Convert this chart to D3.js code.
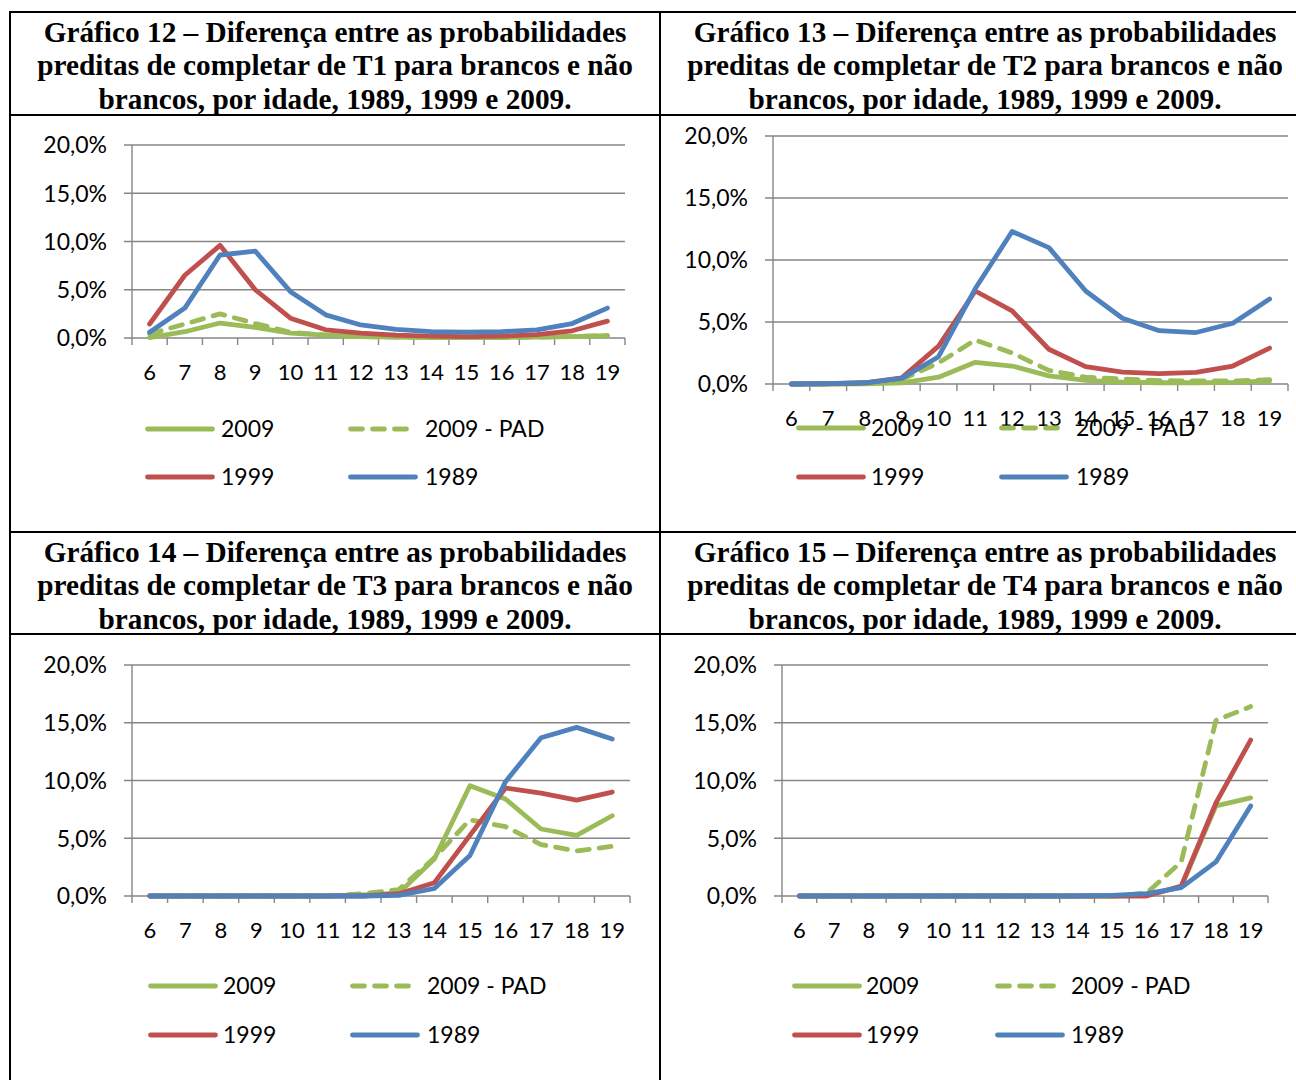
<!DOCTYPE html>
<html>
<head>
<meta charset="utf-8">
<script src="https://cdn.jsdelivr.net/npm/d3@7"></script>
<style>
  html, body { margin: 0; padding: 0; background: #fff; }
  svg { display: block; }
  .title { font-family: "Liberation Serif", "Times New Roman", serif; font-weight: bold; font-size: 29.3px; fill: #000; }
  .lbl { font-family: Lato, "Open Sans", sans-serif; font-size: 22px; fill: #000; }
  .ylbl { font-family: Lato, "Open Sans", sans-serif; font-size: 23px; fill: #000; }
  .leg { font-family: Lato, "Open Sans", sans-serif; font-size: 23px; fill: #000; }
</style>
</head>
<body>
<svg id="chart" width="1296" height="1080"></svg>
<script>
// Ages on the horizontal axis
const ages = ["6", "7", "8", "9", "10", "11", "12", "13", "14", "15", "16", "17", "18", "19"];
const yTicks = [0, 5, 10, 15, 20];
const seriesNames = ["2009", "2009 - PAD", "1999", "1989"];

// Differences in predicted probability (percentage points), T1
const t1_2009    = [0.05, 0.65, 1.55, 1.1, 0.5, 0.3, 0.15, 0.1, 0.05, 0.05, 0.05, 0.1, 0.15, 0.25];
const t1_2009pad = [0.4, 1.45, 2.5, 1.5, 0.6, 0.3, 0.15, 0.1, 0.05, 0.05, 0.05, 0.1, 0.15, 0.25];
const t1_1999    = [1.45, 6.5, 9.6, 5.0, 2.05, 0.85, 0.5, 0.3, 0.2, 0.15, 0.2, 0.35, 0.75, 1.75];
const t1_1989    = [0.6, 3.1, 8.6, 9.0, 4.8, 2.4, 1.35, 0.9, 0.65, 0.6, 0.65, 0.85, 1.5, 3.1];

// T2
const t2_2009    = [0, 0, 0.02, 0.1, 0.55, 1.75, 1.45, 0.65, 0.3, 0.15, 0.1, 0.1, 0.13, 0.25];
const t2_2009pad = [0, 0, 0.05, 0.35, 1.7, 3.55, 2.5, 1.1, 0.55, 0.4, 0.27, 0.25, 0.25, 0.35];
const t2_1999    = [0, 0.02, 0.1, 0.5, 3.05, 7.5, 5.9, 2.8, 1.4, 0.95, 0.83, 0.93, 1.45, 2.9];
const t2_1989    = [0, 0.03, 0.1, 0.45, 2.2, 7.7, 12.3, 11.0, 7.5, 5.3, 4.3, 4.15, 4.9, 6.85];

// T3
const t3_2009    = [0, 0, 0, 0, 0, 0, 0.1, 0.25, 3.2, 9.55, 8.4, 5.8, 5.25, 6.95];
const t3_2009pad = [0, 0, 0, 0, 0, 0, 0.2, 0.55, 3.3, 6.6, 6.0, 4.45, 3.9, 4.3];
const t3_1999    = [0, 0, 0, 0, 0, 0, 0, 0.2, 1.15, 5.25, 9.35, 8.9, 8.3, 9.0];
const t3_1989    = [0, 0, 0, 0, 0, 0, 0, 0.05, 0.65, 3.5, 9.9, 13.7, 14.6, 13.6];

// T4
const t4_2009    = [0, 0, 0, 0, 0, 0, 0, 0, 0, 0, 0.05, 0.8, 7.8, 8.5];
const t4_2009pad = [0, 0, 0, 0, 0, 0, 0, 0, 0, 0, 0.25, 2.95, 15.2, 16.4];
const t4_1999    = [0, 0, 0, 0, 0, 0, 0, 0, 0, 0, 0, 0.85, 8.05, 13.5];
const t4_1989    = [0, 0, 0, 0, 0, 0, 0, 0, 0, 0.05, 0.2, 0.72, 2.95, 7.8];

const titles = [
  ["Gráfico 12 – Diferença entre as probabilidades", "preditas de completar de T1 para brancos e não", "brancos, por idade, 1989, 1999 e 2009."],
  ["Gráfico 13 – Diferença entre as probabilidades", "preditas de completar de T2 para brancos e não", "brancos, por idade, 1989, 1999 e 2009."],
  ["Gráfico 14 – Diferença entre as probabilidades", "preditas de completar de T3 para brancos e não", "brancos, por idade, 1989, 1999 e 2009."],
  ["Gráfico 15 – Diferença entre as probabilidades", "preditas de completar de T4 para brancos e não", "brancos, por idade, 1989, 1999 e 2009."]
];
const panelData = [
  [t1_2009, t1_2009pad, t1_1999, t1_1989],
  [t2_2009, t2_2009pad, t2_1999, t2_1989],
  [t3_2009, t3_2009pad, t3_1999, t3_1989],
  [t4_2009, t4_2009pad, t4_1999, t4_1989]
];

// Series styling
const colors = ["#9BBB59", "#9BBB59", "#C0504D", "#4F81BD"];
const dashes = [null, "12,10", null, null];

// Panel geometry
const layout = [
  { cx: 335, tb: 42,  x0: 132, x1: 625,  yTop: 145, yBot: 338, lx1: 145, lx2: 348, tx1: 221, tx2: 425, ly1: 429, ly2: 477 },
  { cx: 985, tb: 42,  x0: 773, x1: 1288, yTop: 136, yBot: 384, lx1: 796, lx2: 999, tx1: 871, tx2: 1076, ly1: 428, ly2: 477 },
  { cx: 335, tb: 562, x0: 132, x1: 630,  yTop: 665, yBot: 896, lx1: 148, lx2: 350, tx1: 223, tx2: 427, ly1: 986, ly2: 1035 },
  { cx: 985, tb: 562, x0: 782, x1: 1268, yTop: 665, yBot: 896, lx1: 792, lx2: 995, tx1: 866, tx2: 1071, ly1: 986, ly2: 1035 }
];

const svg = d3.select("#chart");
svg.append("rect").attr("width", 1296).attr("height", 1080).attr("fill", "#fff");

const fmt = d => d.toFixed(1).replace(".", ",") + "%";
const grid = "#868686";

layout.forEach((L, i) => {
  const g = svg.append("g");

  // Title block
  titles[i].forEach((t, k) => {
    g.append("text").attr("class", "title")
      .attr("x", L.cx).attr("y", L.tb + k * 33.3)
      .attr("text-anchor", "middle").text(t);
  });

  const x = d3.scaleBand().domain(ages).range([L.x0, L.x1]);
  const y = d3.scaleLinear().domain([0, 20]).range([L.yBot, L.yTop]);

  // Horizontal gridlines with short ticks left of the axis
  g.append("g").selectAll("line").data(yTicks).join("line")
    .attr("x1", L.x0 - 8).attr("x2", L.x1)
    .attr("y1", d => y(d)).attr("y2", d => y(d))
    .attr("stroke", grid).attr("stroke-width", 1.4);

  // Y labels
  g.append("g").selectAll("text").data(yTicks).join("text")
    .attr("class", "ylbl")
    .attr("x", L.x0 - 25).attr("y", d => y(d))
    .attr("dy", "0.36em").attr("text-anchor", "end")
    .text(fmt);

  // Vertical axis line
  g.append("line").attr("x1", L.x0).attr("x2", L.x0)
    .attr("y1", y(20)).attr("y2", y(0) + 7)
    .attr("stroke", grid).attr("stroke-width", 1.4);

  // Category boundary ticks
  const bounds = ages.map(a => x(a)).concat([x(ages[ages.length - 1]) + x.bandwidth()]);
  g.append("g").selectAll("line").data(bounds.slice(1)).join("line")
    .attr("x1", d => d).attr("x2", d => d)
    .attr("y1", y(0)).attr("y2", y(0) + 7)
    .attr("stroke", grid).attr("stroke-width", 1.4);

  // X labels
  g.append("g").selectAll("text").data(ages).join("text")
    .attr("class", "lbl")
    .attr("x", d => x(d) + x.bandwidth() / 2).attr("y", y(0) + 34)
    .attr("dy", "0.36em").attr("text-anchor", "middle")
    .text(d => d);

  // Series lines
  const line = d3.line()
    .x((d, j) => x(ages[j]) + x.bandwidth() / 2)
    .y(d => y(d));
  panelData[i].forEach((vals, s) => {
    g.append("path").datum(vals)
      .attr("d", line)
      .attr("fill", "none")
      .attr("stroke", colors[s])
      .attr("stroke-width", 4.8)
      .attr("stroke-linejoin", "round")
      .attr("stroke-linecap", "round")
      .attr("stroke-dasharray", dashes[s]);
  });

  // Legend (two rows, two columns)
  const items = [
    { s: 0, lx: L.lx1, tx: L.tx1, ly: L.ly1, len: 65 },
    { s: 1, lx: L.lx2, tx: L.tx2, ly: L.ly1, len: 58 },
    { s: 2, lx: L.lx1, tx: L.tx1, ly: L.ly2, len: 65 },
    { s: 3, lx: L.lx2, tx: L.tx2, ly: L.ly2, len: 65 }
  ];
  items.forEach(it => {
    g.append("line")
      .attr("x1", it.lx + 2.5).attr("x2", it.lx + 2.5 + it.len)
      .attr("y1", it.ly).attr("y2", it.ly)
      .attr("stroke", colors[it.s]).attr("stroke-width", 4.8)
      .attr("stroke-linecap", "round")
      .attr("stroke-dasharray", dashes[it.s]);
    g.append("text").attr("class", "leg")
      .attr("x", it.tx).attr("y", it.ly).attr("dy", "0.36em")
      .text(seriesNames[it.s]);
  });
});

// Table borders
const borders = svg.append("g").attr("stroke", "#000").attr("stroke-width", 2);
[12, 115, 532, 634].forEach(yy => {
  borders.append("line").attr("x1", 10).attr("x2", 1296).attr("y1", yy).attr("y2", yy);
});
[10, 660].forEach(xx => {
  borders.append("line").attr("x1", xx).attr("x2", xx).attr("y1", 11).attr("y2", 1080);
});
</script>
</body>
</html>
